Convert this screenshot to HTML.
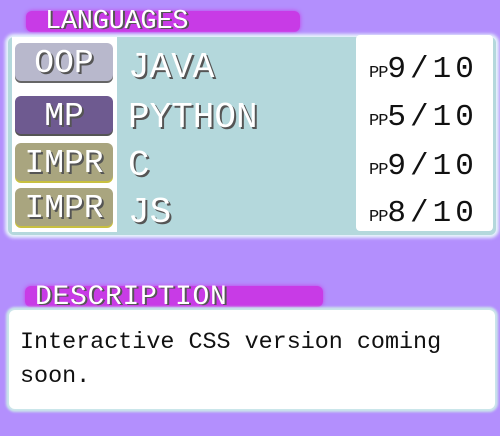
<!DOCTYPE html>
<html><head><style>
body{margin:0;width:500px;height:436px;background:#b38ffd;position:relative;overflow:hidden;font-family:"Liberation Mono",monospace}
.abs{position:absolute}
.hdr{background:#c83be6;border-radius:6px;box-shadow:0 0 4px #c83be6}
.ht{color:#fff;text-shadow:2px 1px 0 #555;white-space:nowrap;line-height:1}
.panel{left:8px;top:37px;width:488px;height:198px;background:#b4d8dc;border-radius:6px;box-shadow:0 0 3px 3px #e6f3fb}
.leftc{left:12px;top:37px;width:105px;height:195px;background:#fff}
.rightc{left:356px;top:35px;width:137px;height:196px;background:#fff;border-radius:4px}
.tag{left:15px;width:98px;height:38px;border-radius:6px;color:#fff;font-size:33px;text-align:center;line-height:42px;text-shadow:2px 2px 0 #555;overflow:hidden}
.nm{left:128px;font-size:36px;color:#fff;text-shadow:2px 2px 0 #555;line-height:1}
.pp{left:369px;color:#111;line-height:1;white-space:nowrap}
.pp small{font-size:17px;letter-spacing:-1px}
.pp span{font-size:31px;letter-spacing:4px}
</style></head><body>
<div class="abs hdr" style="left:26px;top:11px;width:274px;height:21px"></div>
<div class="abs ht" style="left:45px;top:9px;font-size:27px;letter-spacing:-0.3px">LANGUAGES</div>
<div class="abs panel"></div>
<div class="abs leftc"></div>
<div class="abs rightc"></div>
<div class="abs tag" style="top:43px;background:#b8b8cc;box-shadow:0 2px 0 #666">OOP</div>
<div class="abs tag" style="top:96px;background:#6e5a90;box-shadow:0 2px 0 #555">MP</div>
<div class="abs tag" style="top:143px;background:#a9a57f;box-shadow:0 2px 0 #c8c040">IMPR</div>
<div class="abs tag" style="top:188px;background:#a9a57f;box-shadow:0 2px 0 #c8c040">IMPR</div>
<div class="abs nm" style="top:50px">JAVA</div>
<div class="abs nm" style="top:100px">PYTHON</div>
<div class="abs nm" style="top:148px">C</div>
<div class="abs nm" style="top:195px">JS</div>
<div class="abs pp" style="top:54px"><small>PP</small><span>9/10</span></div>
<div class="abs pp" style="top:102px"><small>PP</small><span>5/10</span></div>
<div class="abs pp" style="top:151px"><small>PP</small><span>9/10</span></div>
<div class="abs pp" style="top:198px"><small>PP</small><span>8/10</span></div>
<div class="abs hdr" style="left:25px;top:286px;width:298px;height:21px"></div>
<div class="abs ht" style="left:35px;top:284px;font-size:28px;letter-spacing:0.7px">DESCRIPTION</div>
<div class="abs" style="left:9px;top:310px;width:486px;height:99px;background:#fff;border-radius:6px;box-shadow:0 0 2px 3px #cbe6ea"></div>
<div class="abs" style="left:20px;top:326px;font-size:23.4px;line-height:34px;color:#111;width:470px">Interactive CSS version coming<br>soon.</div>
</body></html>
